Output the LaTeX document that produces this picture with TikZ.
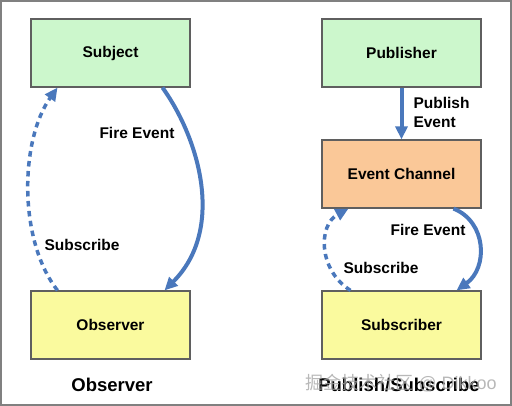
\documentclass[tikz,border=0pt]{standalone}
\usepackage{fontspec}
\setmainfont{Liberation Sans}
\newfontfamily\cjk{Noto Sans CJK SC}
\usetikzlibrary{arrows.meta}
\definecolor{subjgreen}{HTML}{CCF7CC}
\definecolor{chanorange}{HTML}{FAC898}
\definecolor{obsyellow}{HTML}{FAFA9E}
\definecolor{arrowblue}{HTML}{4A78BC}
\definecolor{boxgray}{HTML}{5F5F5F}

\begin{document}
\begin{tikzpicture}[x=1pt,y=-1pt,>={Triangle[length=13pt,width=12pt]},
    box/.style={draw=boxgray,line width=1.2pt,minimum width=159pt,minimum height=68pt,font=\fontsize{15.5}{18}\selectfont\bfseries},
    lbl/.style={font=\fontsize{15.5}{18}\selectfont\bfseries},
    caption/.style={font=\fontsize{18.5}{22}\selectfont\bfseries},
    fire/.style={->,draw=arrowblue,line width=4pt},
    subs/.style={->,draw=arrowblue,line width=3.5pt,dash pattern=on 5.5pt off 4.5pt}]
    \useasboundingbox(0,0)rectangle(512,406);
    \draw[line width=2.5pt,gray](1.2,1.2)rectangle(510.8,404.8);
    % observer side
    \node[box,fill=subjgreen](subject)at(110.5,53){Subject};
    \node[box,fill=obsyellow](observer)at(110.5,325){Observer};
    \node[caption](obscap)at(112,385){Observer};
    \draw[fire]([xshift=52pt]subject.south)..controls(200,140)and(225,230)..([xshift=54pt]observer.north);
    \draw[subs]([xshift=-53pt]observer.north)..controls(18,240)and(20,140)..([xshift=-53pt]subject.south);
    \node[lbl](fireL)at(137,133){Fire Event};
    \node[lbl](subL)at(82,245){Subscribe};
    % publish/subscribe side
    \node[box,fill=subjgreen](publisher)at(401.5,53){Publisher};
    \node[box,fill=chanorange](channel)at(401.5,174){Event Channel};
    \node[box,fill=obsyellow](subscriber)at(401.5,325){Subscriber};
    \node[caption](pubcap)at(399,385){Publish/Subscribe};
    \draw[fire](publisher.south)--(channel.north);
    \node[lbl,anchor=west,align=left](pubL)at(410,112){Publish\\[1pt]Event};
    \draw[fire]([xshift=52pt]channel.south)..controls(487,222)and(488,268)..([xshift=55pt]subscriber.north);
    \draw[subs]([xshift=-51pt]subscriber.north)..controls(318,270)and(318,225)..([xshift=-53pt]channel.south);
    \node[lbl](fireR)at(428,230){Fire Event};
    \node[lbl](subR)at(381,268){Subscribe};
    % watermark
    \node[font=\fontsize{18}{20}\selectfont,text=gray!70,opacity=0.8](mark)at(401,383){{\cjk 掘金技术社区} @ Dikkoo};
\end{tikzpicture}
\end{document}
